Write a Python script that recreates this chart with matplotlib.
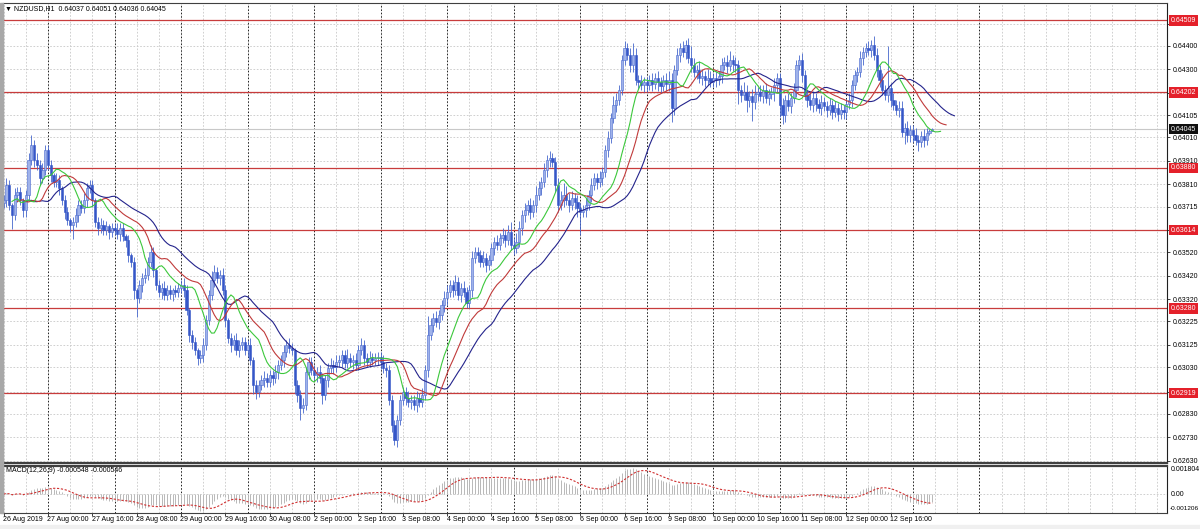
import matplotlib
matplotlib.use("Agg")
import matplotlib.pyplot as plt
import matplotlib.transforms as mtransforms
from matplotlib.patches import Rectangle
import numpy as np

# NZDUSD H1 closes, 26 Aug 2019 08:00 .. 13 Sep 2019 07:00
first_open = 0.63730
closes = [
    0.63743, 0.63807, 0.63722, 0.63679, 0.63764, 0.63777, 0.63743, 0.63700,
    0.63764, 0.63914, 0.63978, 0.63914, 0.63892, 0.63837, 0.63871, 0.63956,
    0.63892, 0.63850, 0.63820, 0.63828, 0.63794, 0.63743, 0.63692, 0.63658,
    0.63636, 0.63649, 0.63679, 0.63722, 0.63709, 0.63743, 0.63794, 0.63807,
    0.63743, 0.63649, 0.63624, 0.63636, 0.63615, 0.63632, 0.63607, 0.63624,
    0.63615, 0.63598, 0.63624, 0.63589, 0.63572, 0.63508, 0.63479, 0.63359,
    0.63325, 0.63381, 0.63410, 0.63423, 0.63479, 0.63521, 0.63444, 0.63381,
    0.63351, 0.63368, 0.63338, 0.63359, 0.63342, 0.63359, 0.63351, 0.63368,
    0.63381, 0.63359, 0.63274, 0.63167, 0.63137, 0.63103, 0.63069, 0.63082,
    0.63125, 0.63231, 0.63338, 0.63402, 0.63436, 0.63410, 0.63423, 0.63359,
    0.63231, 0.63154, 0.63125, 0.63146, 0.63103, 0.63125, 0.63137, 0.63103,
    0.63125, 0.63061, 0.62954, 0.62924, 0.62954, 0.62975, 0.62984, 0.62967,
    0.62997, 0.62984, 0.63009, 0.63039, 0.63061, 0.63095, 0.63125, 0.63112,
    0.63103, 0.62954, 0.62911, 0.62856, 0.62869, 0.63009, 0.63052, 0.63018,
    0.62997, 0.63009, 0.62984, 0.62911, 0.62975, 0.63026, 0.63039, 0.63031,
    0.63052, 0.63061, 0.63082, 0.63048, 0.63069, 0.63052, 0.63061, 0.63039,
    0.63103, 0.63125, 0.63069, 0.63052, 0.63069, 0.63061, 0.63069, 0.63073,
    0.63052, 0.63026, 0.63018, 0.62890, 0.62783, 0.62719, 0.62805, 0.62890,
    0.62924, 0.62899, 0.62881, 0.62890, 0.62869, 0.62899, 0.62881, 0.62911,
    0.63018, 0.63167, 0.63210, 0.63240, 0.63223, 0.63253, 0.63295, 0.63325,
    0.63351, 0.63381, 0.63359, 0.63393, 0.63338, 0.63368, 0.63351, 0.63304,
    0.63359, 0.63496, 0.63521, 0.63508, 0.63479, 0.63496, 0.63466, 0.63487,
    0.63538, 0.63564, 0.63551, 0.63581, 0.63594, 0.63572, 0.63607, 0.63551,
    0.63538, 0.63564, 0.63624, 0.63679, 0.63700, 0.63722, 0.63692, 0.63722,
    0.63764, 0.63794, 0.63820, 0.63871, 0.63914, 0.63922, 0.63905, 0.63807,
    0.63722, 0.63743, 0.63764, 0.63743, 0.63722, 0.63752, 0.63734, 0.63709,
    0.63692, 0.63700, 0.63722, 0.63764, 0.63807, 0.63837, 0.63820, 0.63837,
    0.63862, 0.63956, 0.64007, 0.64093, 0.64148, 0.64170, 0.64212, 0.64340,
    0.64391, 0.64361, 0.64319, 0.64361, 0.64255, 0.64246, 0.64233, 0.64246,
    0.64233, 0.64255, 0.64238, 0.64263, 0.64246, 0.64229, 0.64255, 0.64238,
    0.64255, 0.64135, 0.64297, 0.64361, 0.64391, 0.64374, 0.64404, 0.64349,
    0.64319, 0.64289, 0.64297, 0.64263, 0.64272, 0.64255, 0.64263, 0.64246,
    0.64263, 0.64255, 0.64272, 0.64319, 0.64332, 0.64315, 0.64340, 0.64323,
    0.64319, 0.64212, 0.64191, 0.64204, 0.64170, 0.64187, 0.64161, 0.64195,
    0.64204, 0.64187, 0.64212, 0.64178, 0.64195, 0.64204, 0.64233, 0.64263,
    0.64148, 0.64105, 0.64170, 0.64144, 0.64178, 0.64212, 0.64319, 0.64340,
    0.64276, 0.64191, 0.64170, 0.64148, 0.64178, 0.64152, 0.64135, 0.64161,
    0.64144, 0.64127, 0.64148, 0.64118, 0.64135, 0.64110, 0.64127, 0.64118,
    0.64152, 0.64170, 0.64233, 0.64276, 0.64289, 0.64349, 0.64374, 0.64391,
    0.64383, 0.64404, 0.64361, 0.64297, 0.64255, 0.64212, 0.64191, 0.64221,
    0.64170, 0.64148, 0.64127, 0.64135, 0.64033, 0.64050, 0.64020, 0.64041,
    0.64020, 0.63999, 0.63990, 0.64016, 0.63999, 0.64029, 0.64037, 0.64045,
]

# wick lengths beyond the body, in pips
up_wick = [
    2, 3, 2, 1, 3, 2, 2, 1,   2, 3, 4, 2, 3, 2, 3, 2,
    2, 2, 1, 3, 2, 1, 2, 2,   1, 2, 3, 2, 2, 3, 2, 2,
    2, 1, 2, 3, 2, 2, 1, 2,   2, 3, 2, 2, 1, 2, 1, 2,
    1, 2, 2, 3, 2, 3, 2, 1,   2, 2, 3, 2, 2, 1, 2, 2,
    2, 3, 2, 1, 2, 2, 1, 2,   3, 2, 2, 4, 3, 2, 2, 3,
    2, 1, 2, 2, 3, 2, 2, 2,   2, 3, 1, 2, 2, 2, 3, 2,
    2, 2, 3, 2, 2, 3, 2, 3,   2, 1, 2, 2, 3, 2, 2, 2,
    2, 2, 3, 2, 2, 2, 3, 2,   3, 2, 2, 2, 4, 2, 2, 3,
    2, 3, 2, 2, 3, 2, 2, 2,   2, 3, 2, 2, 2, 2, 2, 2,
    2, 2, 3, 2, 2, 3, 2, 3,   2, 8, 3, 2, 3, 2, 2, 3,
    3, 2, 2, 3, 2, 2, 3, 2,   2, 3, 2, 2, 2, 3, 2, 2,
    2, 2, 3, 2, 3, 2, 3, 4,   3, 4, 3, 2, 3, 2, 3, 2,
    4, 3, 2, 3, 2, 3, 2, 2,   3, 4, 5, 4, 3, 3, 2, 3,
    2, 2, 3, 2, 3, 2, 2, 3,   2, 2, 3, 2, 4, 3, 2, 2,
    3, 2, 3, 5, 3, 2, 3, 2,   2, 2, 3, 2, 3, 2, 2, 3,
    4, 3, 2, 3, 2, 3, 2, 3,   5, 3, 2, 4, 3, 2, 4, 3,
    2, 3, 2, 3, 2, 3, 4, 2,   3, 2, 2, 4, 3, 2, 3, 4,
    2, 3, 2, 3, 2, 2, 3, 2,   2, 3, 2, 3, 2, 3, 2, 2,
    3, 2, 2, 3, 3, 2, 2, 3,   2, 2, 3, 2, 3, 2, 3, 2,
    2, 3, 2, 2, 2, 3, 2, 2,   3, 2, 4, 3, 2, 3, 2, 18,
    2, 3, 2, 3, 3, 2, 3, 2,   2, 3, 2, 2, 3, 2, 1, 0.6,
]
dn_wick = [
    2, 3, 2, 6, 2, 3, 2, 3,   3, 2, 2, 3, 2, 3, 2, 2,
    2, 3, 2, 2, 3, 2, 3, 2,   3, 6, 2, 3, 2, 2, 3, 2,
    3, 2, 3, 2, 2, 2, 3, 2,   2, 2, 3, 2, 3, 3, 2, 4,
    8, 2, 3, 2, 2, 2, 3, 2,   2, 3, 2, 2, 2, 3, 2, 2,
    2, 3, 2, 3, 3, 2, 3, 2,   3, 2, 2, 2, 3, 2, 3, 2,
    3, 2, 3, 2, 2, 3, 2, 2,   3, 2, 4, 3, 2, 2, 3, 2,
    2, 3, 2, 3, 2, 3, 2, 2,   2, 4, 3, 5, 2, 2, 3, 2,
    2, 3, 2, 4, 2, 3, 2, 3,   2, 2, 3, 2, 2, 2, 3, 2,
    2, 2, 3, 2, 2, 2, 2, 3,   3, 2, 3, 2, 3, 2, 3, 2,
    2, 3, 2, 3, 2, 3, 2, 2,   2, 3, 2, 3, 2, 3, 2, 3,
    3, 2, 3, 2, 2, 3, 2, 2,   2, 3, 2, 3, 2, 2, 3, 2,
    2, 3, 2, 2, 2, 3, 2, 2,   3, 2, 2, 3, 3, 2, 3, 2,
    3, 2, 3, 2, 3, 3, 2, 3,   3, 2, 3, 2, 3, 2, 3, 4,
    10, 2, 3, 2, 3, 2, 3, 2,  3, 2, 3, 2, 2, 3, 2, 2,
    2, 2, 3, 3, 2, 3, 2, 3,   3, 2, 3, 2, 4, 3, 2, 3,
    3, 6, 3, 2, 3, 2, 3, 2,   3, 2, 3, 2, 3, 3, 2, 2,
    2, 3, 2, 3, 2, 3, 2, 3,   3, 6, 3, 2, 5, 3, 8, 3,
    3, 2, 3, 2, 3, 2, 4, 3,   5, 4, 3, 2, 3, 2, 3, 2,
    3, 2, 3, 2, 3, 3, 2, 3,   2, 3, 2, 3, 2, 3, 2, 3,
    3, 2, 3, 2, 3, 2, 3, 2,   2, 3, 2, 3, 3, 2, 2, 3,
    3, 2, 2, 3, 2, 5, 3, 3,   3, 2, 4, 2, 3, 2, 1, 0.1,
]

level_prices = [0.64509, 0.64202, 0.63880, 0.63614, 0.63280, 0.62919]
last_price = 0.64045
grid_prices = [0.64495, 0.64400, 0.64300, 0.64200, 0.64105, 0.64010, 0.63910,
               0.63810, 0.63715, 0.63615, 0.63520, 0.63420, 0.63320, 0.63225,
               0.63125, 0.63030, 0.62925, 0.62830, 0.62730, 0.62630]
price_labels = ["", "0.64400", "0.64300", "", "0.64105", "0.64010", "0.63910",
                "0.63810", "0.63715", "", "0.63520", "0.63420", "0.63320", "0.63225",
                "0.63125", "0.63030", "", "0.62830", "0.62730", "0.62630"]
time_labels = ["26 Aug 2019", "27 Aug 00:00", "27 Aug 16:00", "28 Aug 08:00",
               "29 Aug 00:00", "29 Aug 16:00", "30 Aug 08:00", "2 Sep 00:00",
               "2 Sep 16:00", "3 Sep 08:00", "4 Sep 00:00", "4 Sep 16:00",
               "5 Sep 08:00", "6 Sep 00:00", "6 Sep 16:00", "9 Sep 08:00",
               "10 Sep 00:00", "10 Sep 16:00", "11 Sep 08:00", "12 Sep 00:00",
               "12 Sep 16:00"]
title_text = "\u25bc NZDUSD,H1  0.64037 0.64051 0.64036 0.64045"
macd_text = "MACD(12,26,9) -0.000548 -0.000546"

FONT = ["Liberation Sans", "DejaVu Sans"]
FS = 5.0


def smma(values, n):
    out = np.empty(len(values))
    out[0] = values[0]
    for k in range(1, len(values)):
        out[k] = (out[k - 1] * (n - 1) + values[k]) / n
    return out


def ema(values, n):
    a = 2.0 / (n + 1)
    out = np.empty(len(values))
    out[0] = values[0]
    for k in range(1, len(values)):
        out[k] = a * values[k] + (1 - a) * out[k - 1]
    return out


def main():
    c = np.array(closes)
    o = np.concatenate([[first_open], c[:-1]])
    hi = np.maximum(o, c) + np.array(up_wick) * 0.0001
    lo = np.minimum(o, c) - np.array(dn_wick) * 0.0001
    n = len(c)
    idx = np.arange(n)

    W, H = 1200, 529
    fig = plt.figure(figsize=(W / 100, H / 100), dpi=100)
    fig.patch.set_facecolor("white")

    ax = fig.add_axes([3 / W, 1 - 463 / H, 1164 / W, 460 / H])
    ax2 = fig.add_axes([3 / W, 1 - 513 / H, 1164 / W, 47 / H])

    xmin, xmax = -0.23, 419.7
    for a in (ax, ax2):
        a.set_xlim(xmin, xmax)
        a.set_facecolor("white")
        for k in range(0, 420, 8):
            a.axvline(k, color="#c8c8c8", lw=0.6, ls=(0, (2, 2)), zorder=0)
        for k in range(16, 360, 24):
            a.axvline(k, color="#202020", lw=0.7, ls=(0, (1.5, 2)), zorder=0.5)
        a.spines["left"].set_color("#a0a0a0")
        a.spines["right"].set_color("#202020")
        a.spines["top"].set_color("#404040")
        a.spines["bottom"].set_color("#404040")

    ax.set_ylim(0.62621, 0.64583)
    ax2.set_ylim(-0.001206, 0.001804)

    for p in grid_prices:
        ax.axhline(p, color="#c8c8c8", lw=0.6, ls=(0, (2, 2)), zorder=0)
    ax2.axhline(0.0, color="#c8c8c8", lw=0.6, ls=(0, (2, 2)), zorder=0)

    # support / resistance lines
    for p in level_prices:
        ax.axhline(p, color="#c83c3c", lw=0.9, zorder=1)
    ax.axhline(last_price, color="#c8c8c8", lw=0.8, zorder=0.8)

    # candles
    up = c >= o
    ax.vlines(idx, lo, hi, color="#4566cc", lw=0.6, zorder=2)
    body_h = np.maximum(np.abs(c - o), 0.000015)
    ax.bar(idx[up], body_h[up], bottom=o[up], width=0.8,
           color="#9fb2ea", edgecolor="#4a6ad0", linewidth=0.4, zorder=3)
    ax.bar(idx[~up], body_h[~up], bottom=c[~up], width=0.8,
           color="#3556c8", edgecolor="#3556c8", linewidth=0.4, zorder=3)

    # Alligator on median price
    med = (hi + lo) / 2
    for period, shift, col in ((13, 8, "#24248c"), (8, 5, "#c03a3a"), (5, 3, "#3cc83c")):
        line = smma(med, period)
        ax.plot(idx + shift, line, color=col, lw=0.8, zorder=4)

    # MACD
    macd = ema(c, 12) - ema(c, 26)
    signal = np.convolve(macd, np.ones(9) / 9, mode="full")[:n]
    signal[:8] = macd[:8]
    ax2.vlines(idx, 0, macd, color="#b8b8b8", lw=0.7, zorder=2)
    ax2.plot(idx, signal, color="#d03030", lw=0.8, ls=(0, (2, 1.5)), zorder=3)

    # axes cosmetics
    ax.set_xticks([])
    ax.yaxis.tick_right()
    ax.set_yticks(grid_prices)
    ax.set_yticklabels(price_labels, family=FONT, fontsize=FS)
    ax.tick_params(axis="y", length=2, width=0.6, pad=2, color="#202020")
    ax2.set_yticks([])
    ax2.set_xticks(range(0, 336, 16))
    ax2.set_xticklabels([])
    ax2.tick_params(axis="x", length=2, width=0.6, color="#202020")
    ax.spines["bottom"].set_linewidth(1.6)
    ax2.spines["top"].set_linewidth(1.6)

    blend = mtransforms.blended_transform_factory(ax.transAxes, ax.transData)
    for p in level_prices:
        ax.text(1.0035, p, f"{p:.5f}", transform=blend, fontsize=FS, family=FONT,
                color="white", ha="left", va="center", zorder=6,
                bbox=dict(boxstyle="square,pad=0.25", fc="#e4202a", ec="none"))
    ax.text(1.0035, last_price, f"{last_price:.5f}", transform=blend, fontsize=FS,
            family=FONT, color="white", ha="left", va="center", zorder=6,
            bbox=dict(boxstyle="square,pad=0.25", fc="#101010", ec="none"))

    ax2.text(1.003, 1.0, "0.001804", transform=ax2.transAxes, fontsize=FS,
             family=FONT, ha="left", va="top")
    blend2 = mtransforms.blended_transform_factory(ax2.transAxes, ax2.transData)
    ax2.text(1.003, 0.0, "0.00", transform=blend2, fontsize=FS, family=FONT,
             ha="left", va="center")
    ax2.text(1.002, 0.04, "-0.001206", transform=ax2.transAxes, fontsize=4.6,
             family=FONT, ha="left", va="bottom")

    blendx = mtransforms.blended_transform_factory(ax2.transData, ax2.transAxes)
    for k, lab in enumerate(time_labels):
        ax2.text(k * 16 - 0.2, -0.07, lab, transform=blendx, fontsize=FS,
                 family=FONT, ha="left", va="top", clip_on=False)

    fig.text(5 / W, 1 - 9 / H, title_text, fontsize=FS, family=FONT,
             ha="left", va="center")
    fig.text(6 / W, 1 - 471 / H, macd_text, fontsize=FS, family=FONT,
             ha="left", va="center")

    fig.patches.append(Rectangle((0, 1 - 513 / H), 2.5 / W, 510 / H,
                                 transform=fig.transFigure, color="#a8a8a8"))
    fig.patches.append(Rectangle((0, 0), 1, 4 / H, transform=fig.transFigure,
                                 color="#f0f0f0"))

    fig.savefig("out.png", dpi=100)


if __name__ == "__main__":
    main()
